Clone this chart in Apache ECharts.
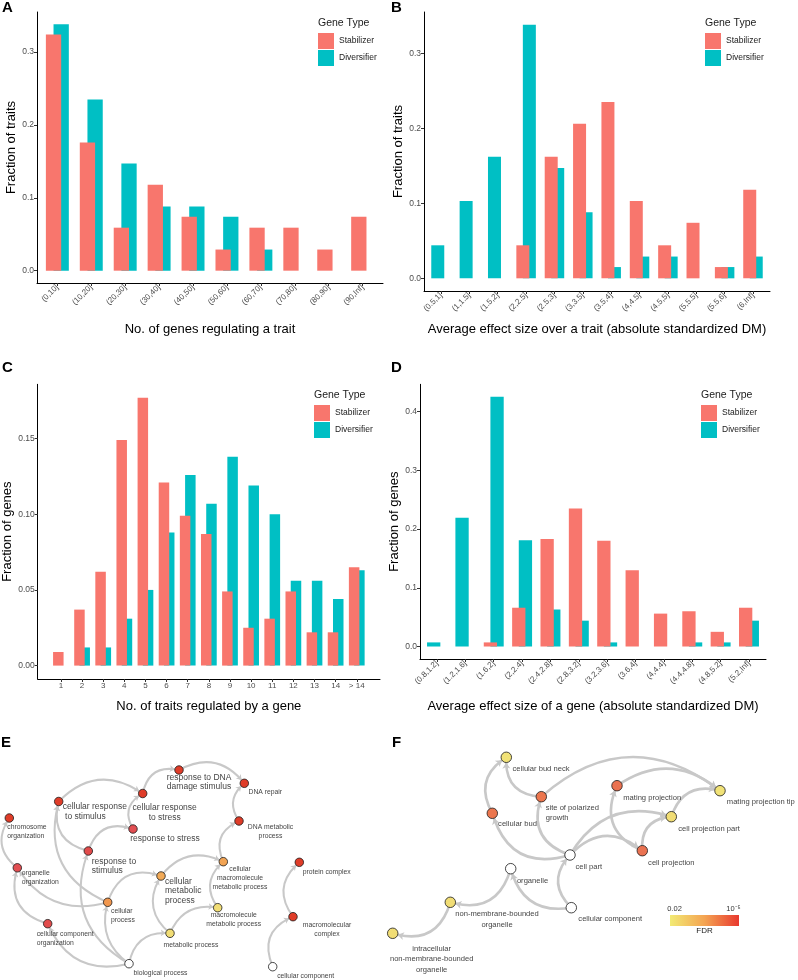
<!DOCTYPE html>
<html>
<head>
<meta charset="utf-8">
<script src="https://cdn.jsdelivr.net/npm/echarts@6/dist/echarts.min.js"></script>
<style>
  html, body { margin: 0; padding: 0; background: #fff; }
  #chart { width: 798px; height: 980px; }
</style>
</head>
<body>
<div id="chart"></div>
<script>
// ---------- bar panels (fractions) ----------
var catsA = ['(0,10]', '(10,20]', '(20,30]', '(30,40]', '(40,50]', '(50,60]', '(60,70]', '(70,80]', '(80,90]', '(90,Inf]'];
var stabA = [0.324, 0.176, 0.059, 0.118, 0.074, 0.029, 0.059, 0.059, 0.029, 0.074];
var divA  = [0.338, 0.235, 0.147, 0.088, 0.088, 0.074, 0.029, 0, 0, 0];

var catsB = ['(0.5,1]', '(1,1.5]', '(1.5,2]', '(2,2.5]', '(2.5,3]', '(3,3.5]', '(3.5,4]', '(4,4.5]', '(4.5,5]', '(5,5.5]', '(5.5,6]', '(6,Inf]'];
var stabB = [0, 0, 0, 0.044, 0.162, 0.206, 0.235, 0.103, 0.044, 0.074, 0.015, 0.118];
var divB  = [0.044, 0.103, 0.162, 0.338, 0.147, 0.088, 0.015, 0.029, 0.029, 0, 0.015, 0.029];

var catsC = ['1', '2', '3', '4', '5', '6', '7', '8', '9', '10', '11', '12', '13', '14', '> 14'];
var stabC = [0.009, 0.037, 0.062, 0.149, 0.177, 0.121, 0.099, 0.087, 0.049, 0.025, 0.031, 0.049, 0.022, 0.022, 0.065];
var divC  = [0, 0.012, 0.012, 0.031, 0.050, 0.088, 0.126, 0.107, 0.138, 0.119, 0.100, 0.056, 0.056, 0.044, 0.063];

var catsD = ['(0.8,1.2]', '(1.2,1.6]', '(1.6,2]', '(2,2.4]', '(2.4,2.8]', '(2.8,3.2]', '(3.2,3.6]', '(3.6,4]', '(4,4.4]', '(4.4,4.8]', '(4.8,5.2]', '(5.2,Inf]'];
var stabD = [0, 0, 0.007, 0.066, 0.183, 0.235, 0.180, 0.130, 0.056, 0.060, 0.025, 0.066];
var divD  = [0.007, 0.219, 0.425, 0.181, 0.063, 0.044, 0.007, 0, 0, 0.007, 0.007, 0.044];

var ticksAB = [0, 0.1, 0.2, 0.3];
var ticksC = [0, 0.05, 0.10, 0.15];
var ticksD = [0, 0.1, 0.2, 0.3, 0.4];

// ---------- GO networks ----------
var nodesE = ['response to DNA damage stimulus', 'DNA repair', 'cellular response to stress', 'cellular response to stimulus',
  'chromosome organization', 'response to stress', 'DNA metabolic process', 'response to stimulus', 'organelle organization',
  'cellular macromolecule metabolic process', 'protein complex', 'cellular metabolic process', 'cellular process',
  'macromolecule metabolic process', 'macromolecular complex', 'cellular component organization', 'metabolic process',
  'biological process', 'cellular component'];
var posE = [[179, 30], [244.3, 43.3], [142.7, 53.5], [58.7, 61.5], [9.3, 78], [133, 89], [239, 81], [88.3, 111], [17.3, 127.8],
  [223.3, 121.7], [299.3, 122.3], [161, 136], [107.7, 162.3], [217.7, 167.7], [293, 176.7], [47.7, 183.7], [170, 193.3],
  [129, 223.7], [272.7, 226.7]];
// colour level on the FDR scale (0 = 0.02 ... 1 = 1e-5), null = not enriched
var fdrE = [1, 1, 1, 1, 1, 0.82, 1, 0.85, 0.82, 0.33, 1, 0.3, 0.4, 0.05, 1, 0.85, 0.05, null, null];
var linksE = [
  ['biological process', 'cellular process'], ['biological process', 'metabolic process'],
  ['biological process', 'response to stimulus'], ['biological process', 'cellular component organization'],
  ['cellular process', 'organelle organization'], ['cellular component organization', 'organelle organization'],
  ['organelle organization', 'chromosome organization'], ['cellular process', 'cellular response to stimulus'],
  ['response to stimulus', 'cellular response to stimulus'], ['response to stimulus', 'response to stress'],
  ['cellular response to stimulus', 'cellular response to stress'], ['response to stress', 'cellular response to stress'],
  ['cellular response to stress', 'response to DNA damage stimulus'], ['response to DNA damage stimulus', 'DNA repair'],
  ['DNA metabolic process', 'DNA repair'], ['cellular macromolecule metabolic process', 'DNA metabolic process'],
  ['cellular metabolic process', 'cellular macromolecule metabolic process'],
  ['macromolecule metabolic process', 'cellular macromolecule metabolic process'],
  ['metabolic process', 'macromolecule metabolic process'], ['metabolic process', 'cellular metabolic process'],
  ['cellular process', 'cellular metabolic process'], ['cellular component', 'macromolecular complex'],
  ['macromolecular complex', 'protein complex']];

var nodesF = ['cellular bud neck', 'site of polarized growth', 'cellular bud', 'mating projection', 'mating projection tip',
  'cell projection part', 'cell part', 'cell projection', 'organelle', 'non-membrane-bounded organelle', 'cellular component',
  'intracellular non-membrane-bounded organelle'];
var posF = [[126.3, 17.3], [161.3, 56.7], [112.3, 73.3], [237, 45.7], [340, 50.7], [291.3, 76.7], [190, 115], [262.3, 110.7],
  [130.7, 128.7], [70.3, 162.3], [191.3, 167.7], [12.7, 193.3]];
var fdrF = [0.03, 0.58, 0.58, 0.6, 0.03, 0.05, null, 0.6, null, 0.05, null, 0.05];
var linksF = [
  ['cellular component', 'cell part'], ['cellular component', 'organelle'], ['organelle', 'non-membrane-bounded organelle'],
  ['non-membrane-bounded organelle', 'intracellular non-membrane-bounded organelle'], ['cell part', 'cellular bud'],
  ['cell part', 'site of polarized growth'], ['cellular bud', 'cellular bud neck'], ['site of polarized growth', 'cellular bud neck'],
  ['site of polarized growth', 'mating projection tip'], ['mating projection', 'mating projection tip'],
  ['cell projection part', 'mating projection tip'], ['cell projection', 'mating projection'],
  ['cell projection', 'cell projection part'], ['cell part', 'cell projection part'], ['cell part', 'cell projection']];

// ---------- styling / layout ----------
var RED = '#F8766D', TEAL = '#00BFC4';
var FONT = '"Liberation Sans", Arial, Helvetica, sans-serif';
var fdrStops = ['#f1e87b', '#f3b35b', '#f08545', '#e25562', '#df3c28'];
function fdrColor(v) { return v == null ? '#ffffff' : echarts.color.lerp(v, fdrStops); }

var curveE = [0.35, 0.45, 0.42, 0.42, 0.37, 0.5, 0.46, 0.43, 0.5, 0.5, 0.42, 0.5, 0.5, 0.42, 0.45, 0.5, 0.4, 0.45, 0.4, 0.43, 0.5, 0.5, 0.46];
var curveF = [0.48, 0.45, 0.5, 0.5, 0.5, 0.5, 0.47, 0.5, 0.41, 0.38, 0.47, 0.5, 0.5, 0.4, 0.47];

// label text, centre offset from node, alignment, big font
var labelE = {
  'response to DNA damage stimulus': ['response to DNA\ndamage stimulus', 20, 12, 'center', 1],
  'DNA repair': ['DNA repair', 21, 9, 'center', 0],
  'cellular response to stress': ['cellular response\nto stress', 22, 19, 'center', 1],
  'cellular response to stimulus': ['cellular response\n to stimulus', 4, 10, 'left', 1],
  'chromosome organization': ['chromosome\norganization', -2, 14, 'left', 0],
  'response to stress': ['response to stress', 32, 10, 'center', 1],
  'DNA metabolic process': ['DNA metabolic\nprocess', 31.5, 11, 'center', 0],
  'response to stimulus': ['response to\nstimulus', 3.4, 15, 'left', 1],
  'organelle organization': ['organelle\norganization', 4.4, 10.3, 'left', 0],
  'cellular macromolecule metabolic process': ['cellular\nmacromolecule\nmetabolic process', 16.7, 16.2, 'center', 0],
  'protein complex': ['protein complex', 27.4, 9.4, 'center', 0],
  'cellular metabolic process': ['cellular\nmetabolic\nprocess', 4, 14.8, 'left', 1],
  'cellular process': ['cellular\nprocess', 3.3, 13, 'left', 0],
  'macromolecule metabolic process': ['macromolecule\nmetabolic process', 16, 11.8, 'center', 0],
  'macromolecular complex': ['macromolecular\ncomplex', 34, 13, 'center', 0],
  'cellular component organization': ['cellular component\norganization', -11, 14.5, 'left', 0],
  'metabolic process': ['metabolic process', 21, 11.4, 'center', 0],
  'biological process': ['biological process', 31.5, 9.3, 'center', 0],
  'cellular component': ['cellular component', 33, 9.3, 'center', 0]
};
var labelF = {
  'cellular bud neck': ['cellular bud neck', 34.7, 11.7, 'center'],
  'site of polarized growth': ['site of polarized\ngrowth', 4.4, 16.3, 'left'],
  'cellular bud': ['cellular bud', 25.2, 11, 'center'],
  'mating projection': ['mating projection', 35.2, 12, 'center'],
  'mating projection tip': ['mating projection tip', 40.8, 11.6, 'center'],
  'cell projection part': ['cell projection part', 37.7, 12, 'center'],
  'cell part': ['cell part', 18.8, 11.7, 'center'],
  'cell projection': ['cell projection', 29, 12, 'center'],
  'organelle': ['organelle', 21.8, 12.3, 'center'],
  'non-membrane-bounded organelle': ['non-membrane-bounded\norganelle', 46.7, 17.2, 'center'],
  'cellular component': ['cellular component', 38.9, 11.6, 'center'],
  'intracellular non-membrane-bounded organelle': ['intracellular\nnon-membrane-bounded\norganelle', 39, 26.1, 'center']
};

var grids = [], xAxes = [], yAxes = [], series = [], legends = [], graphics = [];

// ggplot dodge: if a bin has no stabilizer the diversifier bar takes the first slot
function barSlots(stab, div) {
  var left = [], right = [];
  for (var i = 0; i < stab.length; i++) {
    if (stab[i] > 0) {
      left.push([i + 1, stab[i]]);
      if (div[i] > 0) right.push([i + 1, div[i]]);
    } else if (div[i] > 0) {
      left.push({ value: [i + 1, div[i]], itemStyle: { color: TEAL } });
    }
  }
  return [left, right];
}

function barPanel(p) {
  var gi = grids.length;
  var top = Math.max.apply(null, p.stab.concat(p.div));
  var xTicks = p.cats.map(function (c, i) { return i + 1; });
  grids.push({ left: p.box[0], top: p.box[1], width: p.box[2], height: p.box[3], containLabel: false, outerBoundsMode: 'none' });
  xAxes.push({
    gridIndex: gi, type: 'value', min: p.xMin, max: p.xMax,
    name: p.xName, nameLocation: 'middle', nameGap: p.xGap,
    nameTextStyle: { fontSize: 13, color: '#000', fontFamily: FONT },
    axisLine: { onZero: false, lineStyle: { color: '#000', width: 1 } },
    axisTick: { show: true, length: 3, customValues: xTicks, lineStyle: { color: '#333' } },
    axisLabel: { customValues: xTicks, rotate: p.rotate, fontSize: 8, color: '#4d4d4d', margin: 3, fontFamily: FONT,
      formatter: function (v) { return p.cats[Math.round(v) - 1]; } },
    splitLine: { show: false }
  });
  yAxes.push({
    gridIndex: gi, type: 'value', min: -0.05 * top, max: 1.05 * top,
    name: p.yName, nameLocation: 'middle', nameGap: p.yGap,
    nameTextStyle: { fontSize: 13, color: '#000', fontFamily: FONT },
    axisLine: { show: true, onZero: false, lineStyle: { color: '#000', width: 1 } },
    axisTick: { show: true, length: 3, customValues: p.yTicks, lineStyle: { color: '#333' } },
    axisLabel: { customValues: p.yTicks, fontSize: 8.5, color: '#4d4d4d', margin: 3, fontFamily: FONT,
      formatter: function (v) { return v.toFixed(p.dec); } },
    splitLine: { show: false }
  });
  var slots = barSlots(p.stab, p.div);
  // stabilizer takes the left slot and is drawn in front
  series.push({ type: 'bar', name: 'Stabilizer', xAxisIndex: gi, yAxisIndex: gi, data: slots[0],
    barWidth: p.barW, barGap: '-50%', z: 3, itemStyle: { color: RED } });
  series.push({ type: 'bar', name: 'Diversifier', xAxisIndex: gi, yAxisIndex: gi, data: slots[1],
    barWidth: p.barW, barGap: '-50%', z: 2, itemStyle: { color: TEAL } });
  legends.push({
    left: p.legend[0], top: p.legend[1], orient: 'vertical', padding: 0, itemGap: 1,
    itemWidth: 16, itemHeight: 16, icon: 'rect', selectedMode: false,
    data: ['Stabilizer', 'Diversifier'],
    textStyle: { fontSize: 8.5, color: '#1a1a1a', fontFamily: FONT }
  });
  graphics.push({ type: 'text', x: p.legend[0], y: p.legend[1] - 10,
    style: { text: 'Gene Type', fontSize: 10.5, fontFamily: FONT, fill: '#1a1a1a', verticalAlign: 'middle' } });
}

barPanel({ cats: catsA, stab: stabA, div: divA, box: [37, 12, 346, 271], xMin: 0.4, xMax: 10.6, rotate: 45,
  xName: 'No. of genes regulating a trait', xGap: 40, yName: 'Fraction of traits', yGap: 19,
  yTicks: ticksAB, dec: 1, barW: 15.3, legend: [318, 33] });
barPanel({ cats: catsB, stab: stabB, div: divB, box: [424, 12, 346, 279], xMin: 0.4, xMax: 12.6, rotate: 45,
  xName: 'Average effect size over a trait (absolute standardized DM)', xGap: 32, yName: 'Fraction of traits', yGap: 15,
  yTicks: ticksAB, dec: 1, barW: 13, legend: [705, 33] });
barPanel({ cats: catsC, stab: stabC, div: divC, box: [37.7, 384.3, 342.3, 294.7], xMin: -0.1, xMax: 16.1, rotate: 0,
  xName: 'No. of traits regulated by a gene', xGap: 21, yName: 'Fraction of genes', yGap: 23,
  yTicks: ticksC, dec: 2, barW: 10.5, legend: [314, 405] });
barPanel({ cats: catsD, stab: stabD, div: divD, box: [420, 384.3, 346, 274.7], xMin: 0.4, xMax: 12.6, rotate: 45,
  xName: 'Average effect size of a gene (absolute standardized DM)', xGap: 41, yName: 'Fraction of genes', yGap: 19,
  yTicks: ticksD, dec: 1, barW: 13.3, legend: [701, 405] });

// ---------- network panels ----------
function graphPanel(box, names, pos, fdr, links, curves, labels, cfg) {
  var gi = grids.length;
  grids.push({ left: box[0], top: box[1], width: box[2], height: box[3], containLabel: false, outerBoundsMode: 'none' });
  xAxes.push({ gridIndex: gi, type: 'value', min: 0, max: box[2], show: false });
  yAxes.push({ gridIndex: gi, type: 'value', min: 0, max: box[3], inverse: true, show: false });
  var data = names.map(function (n, i) {
    var l = labels[n];
    var big = l[4] === 1;
    return {
      name: n, value: pos[i],
      itemStyle: { color: fdrColor(fdr[i]) },
      label: { formatter: l[0], offset: [l[1], l[2]], align: l[3],
        fontSize: big ? cfg.bigFont : cfg.font, lineHeight: big ? 9.5 : cfg.lineH }
    };
  });
  series.push({
    type: 'graph', coordinateSystem: 'cartesian2d', xAxisIndex: gi, yAxisIndex: gi,
    symbolSize: cfg.node, edgeSymbol: ['none', 'arrow'], edgeSymbolSize: [0, cfg.arrow],
    itemStyle: { borderColor: '#1a1a1a', borderWidth: 0.8 },
    lineStyle: { color: '#c8c8c8', width: cfg.edge, opacity: 1 },
    label: { show: true, position: 'inside', verticalAlign: 'middle', color: '#454545', fontFamily: FONT },
    emphasis: { disabled: true }, silent: true, animation: false,
    data: data,
    links: links.map(function (lk, i) {
      return { source: lk[0], target: lk[1], lineStyle: { curveness: curves[i] } };
    })
  });
}

graphPanel([0, 740, 340, 240], nodesE, posE, fdrE, linksE, curveE, labelE,
  { node: 8.5, arrow: 5, edge: 2, font: 6.8, bigFont: 8.5, lineH: 9 });
graphPanel([380, 740, 418, 240], nodesF, posF, fdrF, linksF, curveF, labelF,
  { node: 10.5, arrow: 6, edge: 2.6, font: 7.6, bigFont: 7.6, lineH: 10.5 });

// panel letters
[['A', 2, 8], ['B', 391, 8], ['C', 2, 368], ['D', 391, 368], ['E', 1, 742.5], ['F', 392, 742.5]].forEach(function (t) {
  graphics.push({ type: 'text', x: t[1], y: t[2],
    style: { text: t[0], fontSize: 15, fontWeight: 'bold', fontFamily: FONT, fill: '#000', verticalAlign: 'middle' } });
});

// FDR colour bar
graphics.push({ type: 'rect', shape: { x: 670, y: 915, width: 69, height: 11 },
  style: { fill: new echarts.graphic.LinearGradient(0, 0, 1, 0, [
    { offset: 0, color: '#f2ea74' }, { offset: 0.5, color: '#f4a452' }, { offset: 1, color: '#e8392f' }]) } });
graphics.push({ type: 'text', x: 674.5, y: 909, style: { text: '0.02', fontSize: 7.5, fontFamily: FONT, fill: '#333', align: 'center', verticalAlign: 'middle' } });
graphics.push({ type: 'text', x: 733.5, y: 909, style: { text: '10⁻⁵', fontSize: 7.5, fontFamily: FONT, fill: '#333', align: 'center', verticalAlign: 'middle' } });
graphics.push({ type: 'text', x: 704.5, y: 931, style: { text: 'FDR', fontSize: 8, fontFamily: FONT, fill: '#222', align: 'center', verticalAlign: 'middle' } });

var chart = echarts.init(document.getElementById('chart'), null, { renderer: 'canvas' });
chart.setOption({
  animation: false,
  backgroundColor: '#fff',
  textStyle: { fontFamily: FONT },
  grid: grids, xAxis: xAxes, yAxis: yAxes,
  legend: legends, series: series, graphic: graphics
});
</script>
</body>
</html>
